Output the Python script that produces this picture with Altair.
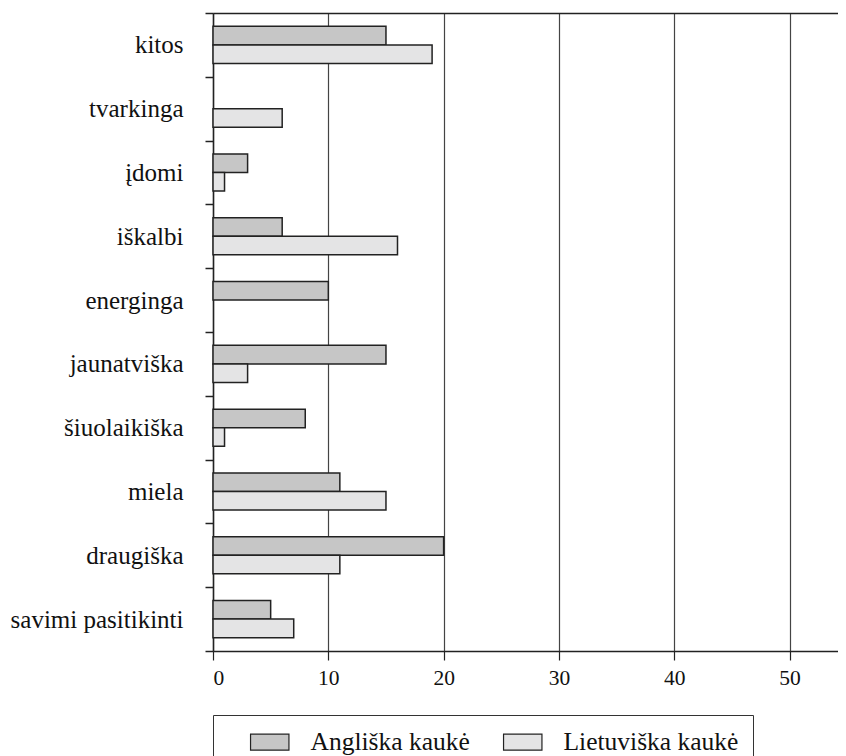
import altair as alt
import pandas as pd

categories = ["kitos", "tvarkinga", "įdomi", "iškalbi", "energinga",
              "jaunatviška", "šiuolaikiška", "miela", "draugiška", "savimi pasitikinti"]
series_names = ["Angliška kaukė", "Lietuviška kaukė"]
angliska = [15, 0, 3, 6, 10, 15, 8, 11, 20, 5]
lietuviska = [19, 6, 1, 16, 0, 3, 1, 15, 11, 7]
x_ticks = [0, 10, 20, 30, 40, 50]
colors = ["#c6c6c6", "#e4e4e5"]

rows = []
for c, a, l in zip(categories, angliska, lietuviska):
    rows.append({"cat": c, "series": series_names[0], "value": a})
    rows.append({"cat": c, "series": series_names[1], "value": l})
df = pd.DataFrame(rows)

FONT = "Liberation Serif"

x_scale = alt.Scale(domain=[0, 54.2], nice=False, zero=True)
y_scale = alt.Scale(domain=categories, paddingInner=0, paddingOuter=0)

bars = alt.Chart(df).transform_filter("datum.value > 0").mark_bar(
    stroke="#222", strokeWidth=1.5
).encode(
    x=alt.X("value:Q", scale=x_scale,
            axis=alt.Axis(values=x_ticks, title=None, grid=True, gridColor="#444",
                          gridWidth=1.2, tickSize=9, tickColor="#222", tickWidth=1.2,
                          domainColor="#222", domainWidth=1.5,
                          labelFont=FONT, labelFontSize=21.5, labelColor="#111",
                          labelPadding=7)),
    y=alt.Y("cat:N", scale=y_scale, sort=categories,
            axis=alt.Axis(title=None, tickBand="extent", tickSize=8, tickColor="#222",
                          tickWidth=1.5, domainColor="#222", domainWidth=1.5,
                          labelFont=FONT, labelFontSize=25, labelColor="#111",
                          labelPadding=22, labelLimit=400, grid=False)),
    yOffset=alt.YOffset("series:N", sort=series_names,
                        scale=alt.Scale(paddingInner=0, paddingOuter=0.72)),
    fill=alt.Fill("series:N", sort=series_names,
                  scale=alt.Scale(domain=series_names, range=colors),
                  legend=alt.Legend(title=None, orient="none", legendX=0, legendY=702,
                                    direction="horizontal", columns=2,
                                    symbolType="M-2.4,-1H2.4V1H-2.4Z", symbolSize=256,
                                    symbolStrokeColor="#222", symbolStrokeWidth=1.2,
                                    symbolOffset=30, labelOffset=28, columnPadding=10,
                                    padding=14, strokeColor="#333", labelLimit=400,
                                    labelFont=FONT, labelFontSize=25.5, labelColor="#111")),
)

top_line = alt.Chart(df).mark_bar(opacity=0).encode(
    x=alt.X("value:Q", scale=x_scale,
            axis=alt.Axis(orient="top", labels=False, ticks=False, grid=False,
                          title=None, domainColor="#222", domainWidth=1.5)),
)

chart = alt.layer(bars, top_line).resolve_axis(x="independent").properties(
    width=625, height=638,
    padding={"left": 205, "top": 5, "right": 0, "bottom": 120},
    autosize="none",
).configure_view(stroke=None).configure(font=FONT)

chart.save("out.html", embed_options={"renderer": "svg", "actions": False})
